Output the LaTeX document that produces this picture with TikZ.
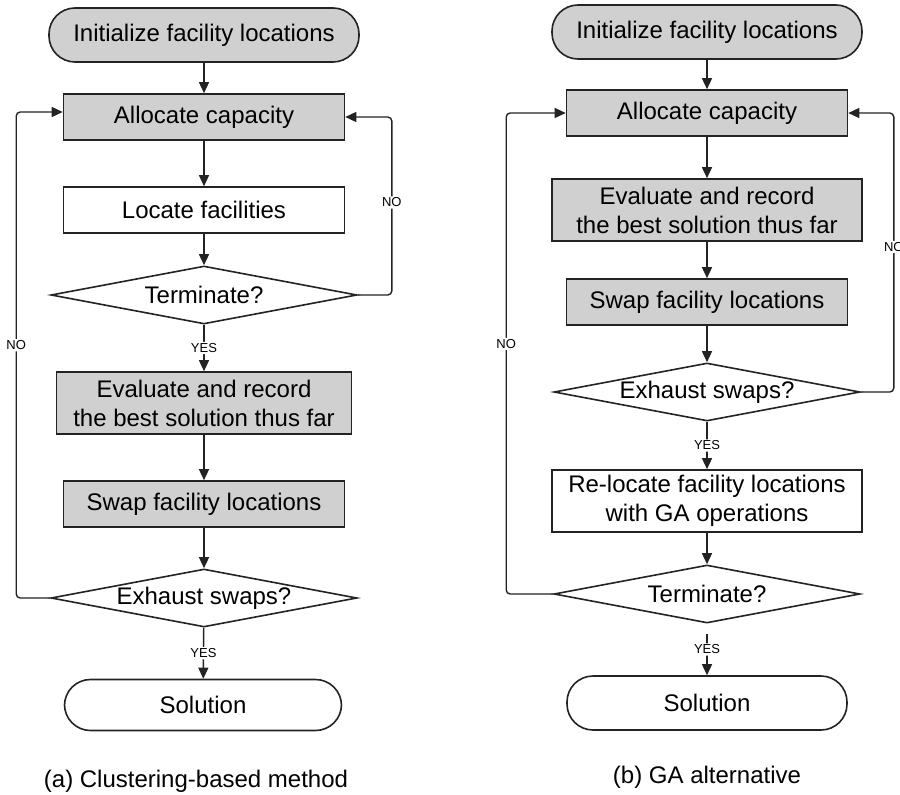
\documentclass[tikz,border=0pt]{standalone}
\usepackage{fontspec}
\setmainfont{Liberation Sans}
\usetikzlibrary{arrows.meta,shapes.geometric}
\definecolor{boxgray}{RGB}{208,208,208}
\definecolor{edgegray}{RGB}{35,35,35}

\begin{document}
\begin{tikzpicture}[x=1pt, y=-1pt,
    every node/.style={font=\fontsize{24}{29}\selectfont},
    base/.style={draw=edgegray, line width=1.6pt, inner sep=0pt, align=center},
    terminal/.style={base, rounded corners=26pt, minimum width=310pt, minimum height=54pt},
    process/.style={base, rectangle, minimum width=281pt, minimum height=46pt},
    twoline/.style={process, minimum width=310pt, minimum height=62pt},
    decision/.style={base, diamond, minimum width=306pt, minimum height=58pt},
    shaded/.style={fill=boxgray},
    flow/.style={-{Triangle[length=11pt,width=10pt]}, line width=1.4pt, draw=edgegray, rounded corners=4pt},
    tag/.style={font=\fontsize{13}{15}\selectfont, fill=white, inner sep=1.5pt}]
    \useasboundingbox (0,0) rectangle (900,795);

    % (a) Clustering-based method
    \node[terminal, shaded] (init1) at (204,35) {Initialize facility locations};
    \node[process, shaded] (alloc1) at (204,117) {Allocate capacity};
    \node[process] (locate1) at (204,210) {Locate facilities};
    \node[decision, label=center:Terminate?] (term1) at (204,295) {};
    \node[twoline, shaded, minimum width=295pt] (eval1) at (204,403) {Evaluate and record\\the best solution thus far};
    \node[process, shaded] (swap1) at (204,504) {Swap facility locations};
    \node[decision, label=center:Exhaust swaps?] (exh1) at (204,598) {};
    \node[terminal, minimum width=277pt, minimum height=51pt] (sol1) at (203,705) {Solution};
    \node (cap1) at (196,781) {(a) Clustering-based method};

    \draw[flow] (init1) -- (alloc1);
    \draw[flow] (alloc1) -- (locate1);
    \draw[flow] (locate1) -- (term1);
    \draw[flow] (term1) -- node[tag] {YES} (eval1);
    \draw[flow] (eval1) -- (swap1);
    \draw[flow] (swap1) -- (exh1);
    \draw[flow] (exh1) -- node[tag] {YES} (sol1);

    % NO loops of (a)
    \draw[flow] (term1.east) -- ++(34,0) |- node[tag, pos=0.26] {NO} (alloc1.east);
    \draw[flow] (exh1.west) -- ++(-34,0) |- node[tag, pos=0.26] {NO} ([yshift=5pt]alloc1.west);

    % (b) GA alternative
    \node[terminal, shaded] (init2) at (707,32) {Initialize facility locations};
    \node[process, shaded] (alloc2) at (707,113) {Allocate capacity};
    \node[twoline, shaded] (eval2) at (707,210) {Evaluate and record\\the best solution thus far};
    \node[process, shaded] (swap2) at (707,302) {Swap facility locations};
    \node[decision, label=center:Exhaust swaps?] (exh2) at (707,392) {};
    \node[twoline] (reloc2) at (707,501) {Re-locate facility locations\\with GA operations};
    \node[decision, label=center:Terminate?] (term2) at (707,594) {};
    \node[terminal, minimum width=280pt] (sol2) at (707,703) {Solution};
    \node (cap2) at (707,777) {(b) GA alternative};

    \draw[flow] (init2) -- (alloc2);
    \draw[flow] (alloc2) -- (eval2);
    \draw[flow] (eval2) -- (swap2);
    \draw[flow] (swap2) -- (exh2);
    \draw[flow] (exh2) -- node[tag] {YES} (reloc2);
    \draw[flow] (reloc2) -- (term2);
    \draw[flow, shorten <=10pt] (term2) -- node[tag] {YES} (sol2);

    % NO loops of (b)
    \draw[flow] (exh2.east) -- ++(33,0) |- node[tag, pos=0.26] {NO} (alloc2.east);
    \draw[flow] (term2.west) -- ++(-47,0) |- node[tag, pos=0.26] {NO} (alloc2.west);
\end{tikzpicture}
\end{document}
